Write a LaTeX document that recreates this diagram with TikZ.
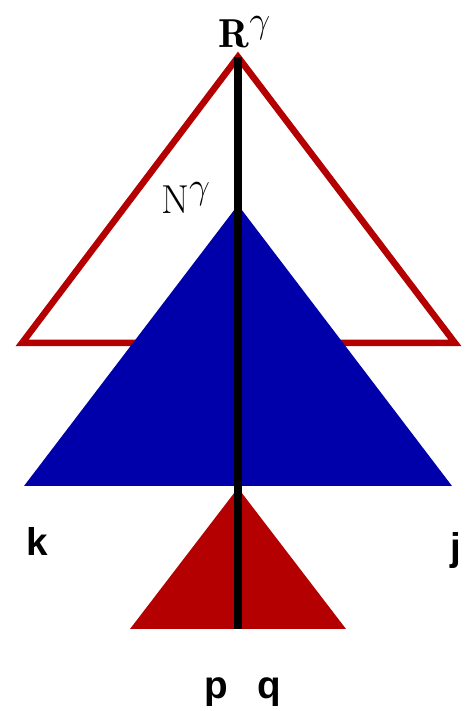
\documentclass[tikz,border=0pt]{standalone}
\usepackage{fontspec}
\newfontfamily\labelfont{Liberation Sans}
\definecolor{treered}{RGB}{180, 0, 0}
\definecolor{treeblue}{RGB}{0, 0, 170}
\usetikzlibrary{positioning}

\begin{document}
\begin{tikzpicture}
\useasboundingbox (0,0) rectangle (9.44,14.22);
\draw[treered, line width=0.13cm, line join=miter] (4.76,13.08) -- (0.44,7.36) -- (9.10,7.36) -- cycle;
\fill[treeblue] (4.76,10.12) -- (0.48,4.5) -- (9.04,4.5) -- cycle;
\fill[treered] (4.76,4.46) -- (2.6,1.64) -- (6.92,1.64) -- cycle;
\coordinate (top) at (4.76,13.08);
\coordinate (bottom) at (4.76,1.64);
\draw[black, line width=0.16cm] (top) -- (bottom);
\node[anchor=base, font=\fontsize{23}{28}\selectfont] (root) at (4.9,13.26) {$\mathbf{R}^{\scalebox{0.85}{$\textstyle\gamma$}}$};
\node[anchor=base, font=\fontsize{23}{28}\selectfont] (inner) at (3.72,9.94) {$\mathrm{N}^{\scalebox{0.85}{$\textstyle\gamma$}}$};
\node[anchor=base, font=\labelfont\bfseries\fontsize{22}{26}\selectfont] (k) at (0.74,3.1) {k};
\node[anchor=base, font=\labelfont\bfseries\fontsize{22}{26}\selectfont] (j) at (9.12,3.02) {j};
\node[anchor=base, font=\labelfont\bfseries\fontsize{22}{26}\selectfont] (p) at (4.32,0.26) {p};
\node[anchor=base, font=\labelfont\bfseries\fontsize{22}{26}\selectfont] (q) at (5.38,0.26) {q};
\end{tikzpicture}
\end{document}
